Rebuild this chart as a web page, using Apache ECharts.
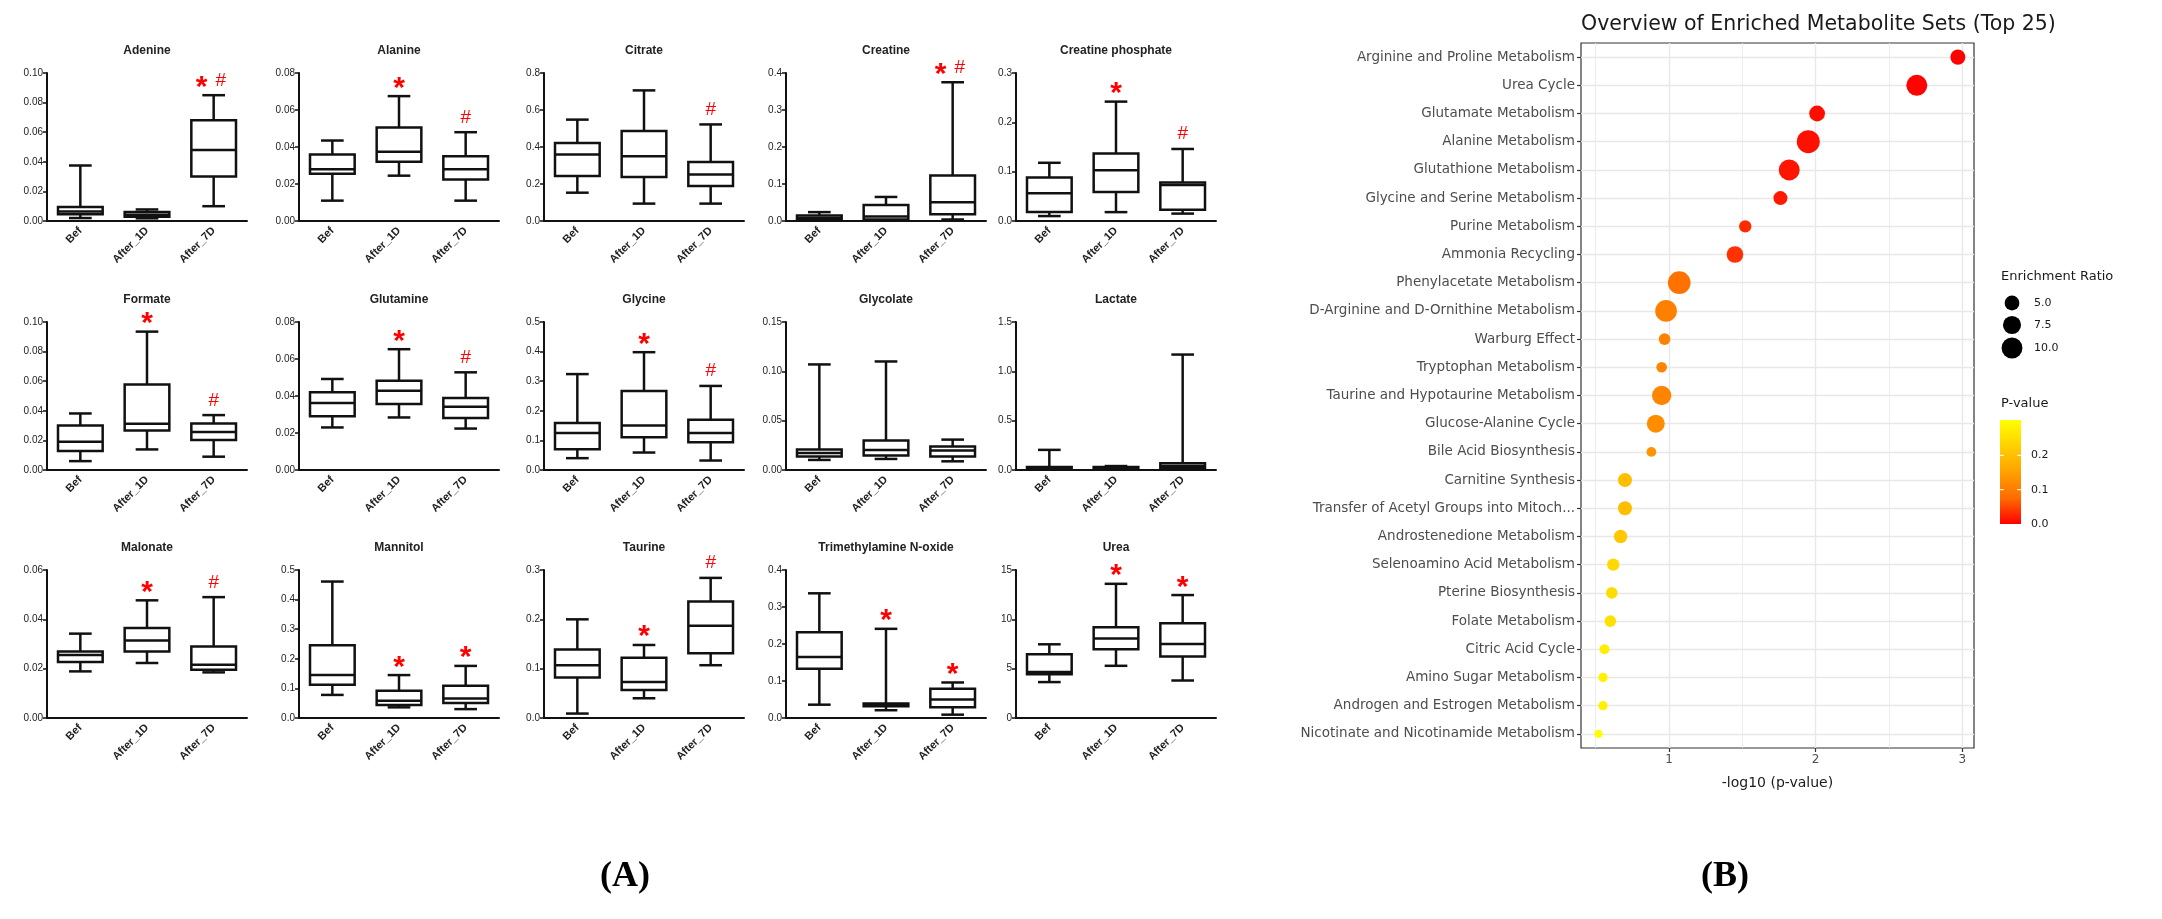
<!DOCTYPE html>
<html>
<head>
<meta charset="utf-8">
<title>Metabolites</title>
<script src="https://cdn.jsdelivr.net/npm/echarts@6.0.0/dist/echarts.min.js"></script>
<style>
  html, body { margin: 0; padding: 0; background: #fff; }
  #chart { width: 2162px; height: 919px; }
</style>
</head>
<body>
<div id="chart"></div>
<script>
// ---------- panel A : box plots, each row = [min, q1, median, q3, max] ----------
const groups = ['Bef', 'After_1D', 'After_7D'];

const adenine   = [[0.002, 0.0045, 0.0065, 0.0095, 0.0375], [0.0018, 0.0028, 0.0042, 0.006, 0.0078], [0.010, 0.030, 0.048, 0.068, 0.085]];
const alanine   = [[0.011, 0.0255, 0.028, 0.036, 0.0435], [0.0245, 0.032, 0.0375, 0.0505, 0.0675], [0.011, 0.0225, 0.028, 0.035, 0.048]];
const citrate   = [[0.153, 0.243, 0.36, 0.422, 0.548], [0.094, 0.238, 0.35, 0.486, 0.706], [0.094, 0.189, 0.252, 0.319, 0.522]];
const creatine  = [[0.002, 0.004, 0.008, 0.015, 0.024], [0.001, 0.004, 0.012, 0.043, 0.065], [0.004, 0.018, 0.051, 0.123, 0.375]];
const creatineP = [[0.010, 0.018, 0.056, 0.088, 0.118], [0.018, 0.059, 0.103, 0.137, 0.242], [0.015, 0.023, 0.073, 0.078, 0.146]];
const formate   = [[0.006, 0.0128, 0.0191, 0.0301, 0.0382], [0.0139, 0.0267, 0.0312, 0.0578, 0.0935], [0.009, 0.0202, 0.0256, 0.0315, 0.0371]];
const glutamine = [[0.023, 0.029, 0.0362, 0.042, 0.0492], [0.0284, 0.0357, 0.0429, 0.0483, 0.0653], [0.0224, 0.0281, 0.0342, 0.0389, 0.0528]];
const glycine   = [[0.040, 0.070, 0.125, 0.159, 0.324], [0.059, 0.111, 0.15, 0.267, 0.398], [0.032, 0.094, 0.125, 0.170, 0.284]];
const glycolate = [[0.0102, 0.0136, 0.0173, 0.0207, 0.107], [0.0112, 0.0146, 0.0203, 0.0298, 0.110], [0.0088, 0.0136, 0.0197, 0.0237, 0.0308]];
const lactate   = [[0.003, 0.007, 0.017, 0.03, 0.204], [0.007, 0.01, 0.017, 0.03, 0.04], [0.007, 0.017, 0.04, 0.068, 1.17]];
const malonate  = [[0.0189, 0.0227, 0.0255, 0.027, 0.0342], [0.0223, 0.027, 0.0314, 0.0365, 0.0477], [0.0185, 0.0196, 0.0216, 0.029, 0.049]];
const mannitol  = [[0.078, 0.112, 0.145, 0.246, 0.461], [0.036, 0.044, 0.058, 0.092, 0.145], [0.030, 0.051, 0.066, 0.109, 0.176]];
const taurine   = [[0.009, 0.082, 0.107, 0.139, 0.2], [0.040, 0.057, 0.073, 0.122, 0.148], [0.107, 0.131, 0.187, 0.236, 0.284]];
const tmao      = [[0.036, 0.133, 0.165, 0.232, 0.337], [0.021, 0.032, 0.035, 0.039, 0.241], [0.009, 0.029, 0.050, 0.079, 0.096]];
const urea      = [[3.64, 4.44, 4.65, 6.46, 7.47], [5.29, 6.97, 8.05, 9.19, 13.6], [3.8, 6.23, 7.51, 9.6, 12.46]];

const metaboliteNames = ['Adenine', 'Alanine', 'Citrate', 'Creatine', 'Creatine phosphate',
  'Formate', 'Glutamine', 'Glycine', 'Glycolate', 'Lactate',
  'Malonate', 'Mannitol', 'Taurine', 'Trimethylamine N-oxide', 'Urea'];
const metaboliteStats = [adenine, alanine, citrate, creatine, creatineP,
  formate, glutamine, glycine, glycolate, lactate,
  malonate, mannitol, taurine, tmao, urea];
const axisMax  = [0.10, 0.08, 0.8, 0.4, 0.3, 0.10, 0.08, 0.5, 0.15, 1.5, 0.06, 0.5, 0.3, 0.4, 15];
const axisStep = [0.02, 0.02, 0.2, 0.1, 0.1, 0.02, 0.02, 0.1, 0.05, 0.5, 0.02, 0.1, 0.1, 0.1, 5];
// significance marks above Bef / After_1D / After_7D
const sigMarks = [
  ['', '', '*#'], ['', '*', '#'], ['', '', '#'], ['', '', '*#'], ['', '*', '#'],
  ['', '*', '#'], ['', '*', '#'], ['', '*', '#'], ['', '', ''], ['', '', ''],
  ['', '*', '#'], ['', '*', '*'], ['', '*', '#'], ['', '*', '*'], ['', '*', '*']
];

// ---------- panel B : enrichment overview ----------
const setNames = ['Arginine and Proline Metabolism', 'Urea Cycle', 'Glutamate Metabolism', 'Alanine Metabolism',
  'Glutathione Metabolism', 'Glycine and Serine Metabolism', 'Purine Metabolism', 'Ammonia Recycling',
  'Phenylacetate Metabolism', 'D-Arginine and D-Ornithine Metabolism', 'Warburg Effect', 'Tryptophan Metabolism',
  'Taurine and Hypotaurine Metabolism', 'Glucose-Alanine Cycle', 'Bile Acid Biosynthesis', 'Carnitine Synthesis',
  'Transfer of Acetyl Groups into Mitoch...', 'Androstenedione Metabolism', 'Selenoamino Acid Metabolism',
  'Pterine Biosynthesis', 'Folate Metabolism', 'Citric Acid Cycle', 'Amino Sugar Metabolism',
  'Androgen and Estrogen Metabolism', 'Nicotinate and Nicotinamide Metabolism'];
const negLogP = [2.97, 2.69, 2.01, 1.95, 1.82, 1.76, 1.52, 1.45, 1.07, 0.98, 0.97, 0.95,
  0.95, 0.91, 0.88, 0.70, 0.70, 0.67, 0.62, 0.61, 0.60, 0.56, 0.55, 0.55, 0.52];
const enrichRatio = [5.2, 10.1, 5.7, 12.1, 10.1, 4.5, 3.5, 6.4, 11.8, 10.8, 3.1, 2.6,
  8.6, 7.4, 2.2, 4.5, 4.5, 4.1, 3.5, 3.1, 3.1, 2.3, 2.0, 2.0, 1.6];
const sizeLegend = [5.0, 7.5, 10.0];
const pTicks = [0.0, 0.1, 0.2];

const chart = echarts.init(document.getElementById('chart'));

const narrow = "'Liberation Sans Narrow', 'Liberation Sans', Arial, sans-serif";
const colLeft = [47, 299, 544, 786, 1016];
const rowTop = [73, 322, 570];
const plotW = 200, plotH = 148;
const heat = ['#FF0000', '#FF6B00', '#FFA100', '#FFD100', '#FFFF00'];
const pMax = 0.303;
const dotSize = r => 6.6 * Math.sqrt(r);

function decimals(step) {
  const s = String(step);
  return s.indexOf('.') < 0 ? 0 : s.length - s.indexOf('.') - 1;
}

function boxRenderer(i) {
  return function (params, api) {
    const k = api.value(0);
    const band = api.size([1, 0])[0];
    const pt = d => api.coord([k, api.value(d)]);
    const lo = pt(1), q1 = pt(2), med = pt(3), q3 = pt(4), hi = pt(5);
    const cx = hi[0];
    const bw = band * 0.335, cw = band * 0.17;
    const ls = { stroke: '#111', lineWidth: 2.5 };
    const children = [
      { type: 'line', shape: { x1: cx, y1: hi[1], x2: cx, y2: q3[1] }, style: ls },
      { type: 'line', shape: { x1: cx, y1: q1[1], x2: cx, y2: lo[1] }, style: ls },
      { type: 'line', shape: { x1: cx - cw, y1: hi[1], x2: cx + cw, y2: hi[1] }, style: ls },
      { type: 'line', shape: { x1: cx - cw, y1: lo[1], x2: cx + cw, y2: lo[1] }, style: ls },
      { type: 'rect', shape: { x: cx - bw, y: q3[1], width: 2 * bw, height: q1[1] - q3[1] },
        style: { fill: '#fff', stroke: '#111', lineWidth: 2.5 } },
      { type: 'line', shape: { x1: cx - bw, y1: med[1], x2: cx + bw, y2: med[1] }, style: ls }
    ];
    const mark = sigMarks[i][k];
    if (mark) {
      const my = api.coord([k, api.value(5) + 0.1 * axisMax[i]])[1];
      const star = dx => ({ type: 'text', x: cx + dx, y: my + 7,
        style: { text: '*', fill: '#ff0000', font: 'bold 30px "Liberation Sans", Arial', align: 'center', verticalAlign: 'middle' } });
      const hash = dx => ({ type: 'text', x: cx + dx, y: my,
        style: { text: '#', fill: '#ff0000', font: '19px "Liberation Sans", Arial', align: 'center', verticalAlign: 'middle' } });
      if (mark === '*') children.push(star(0));
      else if (mark === '#') children.push(hash(0));
      else { children.push(star(-12)); children.push(hash(7)); }
    }
    return { type: 'group', children };
  };
}

const grids = [], xAxes = [], yAxes = [], series = [], graphics = [];

metaboliteNames.forEach((name, i) => {
  const left = colLeft[i % 5], top = rowTop[Math.floor(i / 5)];
  grids.push({ left, top, width: plotW, height: plotH });
  xAxes.push({
    type: 'category', gridIndex: i, data: groups,
    axisLine: { lineStyle: { color: '#111', width: 2 } },
    axisTick: { alignWithLabel: true, length: 5, lineStyle: { color: '#111', width: 2 } },
    axisLabel: { rotate: 45, color: '#222', fontSize: 11, fontWeight: 'bold', fontFamily: narrow, margin: 8 },
    splitLine: { show: false }
  });
  const dec = decimals(axisStep[i]);
  yAxes.push({
    type: 'value', gridIndex: i, min: 0, max: axisMax[i], interval: axisStep[i],
    axisLine: { show: true, lineStyle: { color: '#111', width: 2 } },
    axisTick: { show: true, length: 4, lineStyle: { color: '#111', width: 1.5 } },
    axisLabel: { color: '#222', fontSize: 10, fontFamily: narrow, margin: 4, formatter: v => v.toFixed(dec) },
    splitLine: { show: false }
  });
  series.push({
    type: 'custom', xAxisIndex: i, yAxisIndex: i, clip: false,
    data: metaboliteStats[i].map((s, k) => [k].concat(s)),
    encode: { x: 0, y: [1, 2, 3, 4, 5] },
    renderItem: boxRenderer(i)
  });
  graphics.push({ type: 'text', x: left + plotW / 2, y: top - 22,
    style: { text: name, font: 'bold 12px "Liberation Sans", Arial', fill: '#222', align: 'center', verticalAlign: 'middle' } });
});

// panel B grid
const bLeft = 1581, bTop = 43, bW = 393, bH = 705;
grids.push({ left: bLeft, top: bTop, width: bW, height: bH, show: true, borderColor: '#333', borderWidth: 1.2 });
xAxes.push({
  type: 'value', gridIndex: 15, min: 0.4, max: 3.08,
  name: '-log10 (p-value)', nameLocation: 'middle', nameGap: 28,
  nameTextStyle: { color: '#1a1a1a', fontSize: 14, fontFamily: 'DejaVu Sans' },
  axisLine: { show: false },
  axisTick: { show: true, length: 4, customValues: [1, 2, 3], lineStyle: { color: '#333', width: 1.2 } },
  axisLabel: { customValues: [1, 2, 3], color: '#4d4d4d', fontSize: 12, fontFamily: 'DejaVu Sans', margin: 6 },
  splitLine: { show: false }
});
yAxes.push({
  type: 'category', gridIndex: 15, data: setNames, inverse: true,
  axisLine: { show: false },
  axisTick: { show: true, alignWithLabel: true, length: 4, lineStyle: { color: '#333', width: 1.2 } },
  axisLabel: { color: '#4d4d4d', fontSize: 13.5, fontFamily: 'DejaVu Sans', margin: 6 },
  splitLine: { show: false }
});
const gridMarks = [0.5, 1, 1.5, 2, 2.5, 3].map(v => ({ xAxis: v, lineStyle: { width: Number.isInteger(v) ? 1.4 : 0.8 } }))
  .concat(setNames.map(n => ({ yAxis: n, lineStyle: { width: 1.4 } })));
series.push({
  type: 'scatter', xAxisIndex: 15, yAxisIndex: 15, z: 3,
  data: setNames.map((n, i) => [negLogP[i], n, enrichRatio[i], Math.pow(10, -negLogP[i])]),
  symbolSize: v => dotSize(v[2]),
  itemStyle: { opacity: 1 },
  markLine: {
    silent: true, symbol: 'none', z: 1, label: { show: false },
    lineStyle: { color: '#e8e8e8', type: 'solid' },
    data: gridMarks
  }
});

// panel B title and legends
graphics.push({ type: 'text', x: bLeft, y: 25,
  style: { text: 'Overview of Enriched Metabolite Sets (Top 25)', font: '20.5px "DejaVu Sans"', fill: '#1a1a1a', align: 'left', verticalAlign: 'middle' } });
graphics.push({ type: 'text', x: 2001, y: 277,
  style: { text: 'Enrichment Ratio', font: '13px "DejaVu Sans"', fill: '#1a1a1a', align: 'left', verticalAlign: 'middle' } });
const legY = [303, 325, 348];
sizeLegend.forEach((r, k) => {
  graphics.push({ type: 'circle', shape: { cx: 2012, cy: legY[k], r: dotSize(r) / 2 }, style: { fill: '#000' } });
  graphics.push({ type: 'text', x: 2034, y: legY[k],
    style: { text: r.toFixed(1), font: '11px "DejaVu Sans"', fill: '#1a1a1a', align: 'left', verticalAlign: 'middle' } });
});
graphics.push({ type: 'text', x: 2001, y: 404,
  style: { text: 'P-value', font: '13px "DejaVu Sans"', fill: '#1a1a1a', align: 'left', verticalAlign: 'middle' } });
const barTop = 420, barBot = 524, barX = 2000, barW = 21;
graphics.push({ type: 'rect', shape: { x: barX, y: barTop, width: barW, height: barBot - barTop },
  style: { fill: new echarts.graphic.LinearGradient(0, 0, 0, 1,
    heat.slice().reverse().map((c, k) => ({ offset: k / (heat.length - 1), color: c }))) } });
pTicks.forEach(p => {
  const y = barBot - (p / pMax) * (barBot - barTop);
  graphics.push({ type: 'text', x: 2031, y,
    style: { text: p.toFixed(1), font: '11px "DejaVu Sans"', fill: '#1a1a1a', align: 'left', verticalAlign: 'middle' } });
  if (p > 0) {
    graphics.push({ type: 'line', shape: { x1: barX, y1: y, x2: barX + 4, y2: y }, style: { stroke: '#fff', lineWidth: 1 } });
    graphics.push({ type: 'line', shape: { x1: barX + barW - 4, y1: y, x2: barX + barW, y2: y }, style: { stroke: '#fff', lineWidth: 1 } });
  }
});

// panel letters
graphics.push({ type: 'text', x: 625, y: 877,
  style: { text: '(A)', font: 'bold 36px "Liberation Serif", serif', fill: '#000', align: 'center', verticalAlign: 'middle' } });
graphics.push({ type: 'text', x: 1725, y: 877,
  style: { text: '(B)', font: 'bold 36px "Liberation Serif", serif', fill: '#000', align: 'center', verticalAlign: 'middle' } });

const option = {
  backgroundColor: '#fff',
  animation: false,
  grid: grids,
  xAxis: xAxes,
  yAxis: yAxes,
  visualMap: {
    type: 'continuous', show: false, seriesIndex: 15, dimension: 3,
    min: 0, max: pMax, inRange: { color: heat }
  },
  series: series,
  graphic: graphics
};

chart.setOption(option);
</script>
</body>
</html>
